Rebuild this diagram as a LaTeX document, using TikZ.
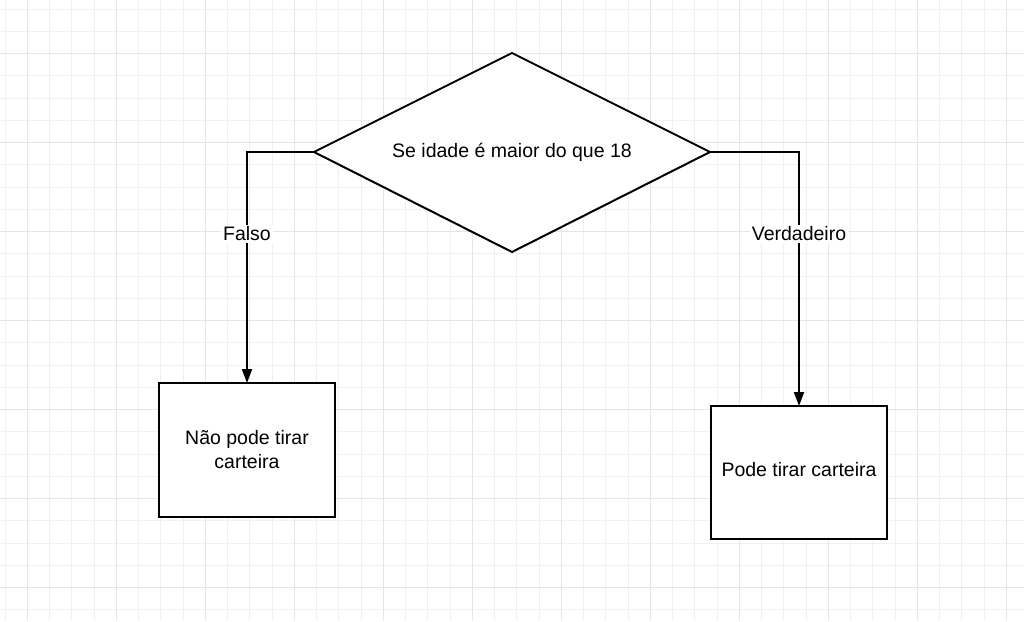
\documentclass[tikz,border=0pt]{standalone}
\usepackage{fontspec}
\setmainfont{Liberation Sans}
\usetikzlibrary{arrows.meta}
\begin{document}
\begin{tikzpicture}[x=1pt,y=-1pt,
  shapebox/.style={draw,line width=2pt},
  conn/.style={draw,line width=2pt,-{Triangle[length=14pt,width=10pt]}},
  lbl/.style={fill=white,font=\fontsize{19.5}{23}\selectfont,inner sep=2pt},
  txt/.style={font=\fontsize{19.5}{24}\selectfont,align=center}]
\useasboundingbox (0,0) rectangle (1024,621);
\fill[white] (0,0) rectangle (1024,621);
\foreach \i in {0,...,46} {
  \pgfmathsetmacro{\xx}{5+22.25*\i}
  \draw[black!6,line width=0.8pt] (\xx,0) -- (\xx,621);
}
\foreach \i in {0,...,28} {
  \pgfmathsetmacro{\yy}{9+22.25*\i}
  \draw[black!6,line width=0.8pt] (0,\yy) -- (1024,\yy);
}
\foreach \i in {0,...,11} {
  \pgfmathsetmacro{\xx}{27+89*\i}
  \draw[black!10,line width=1pt] (\xx,0) -- (\xx,621);
}
\foreach \i in {0,...,6} {
  \pgfmathsetmacro{\yy}{53+89*\i}
  \draw[black!10,line width=1pt] (0,\yy) -- (1024,\yy);
}
\coordinate (dt) at (512,53);
\coordinate (dl) at (314,152);
\coordinate (dr) at (710,152);
\coordinate (db) at (512,252);
\draw[shapebox,fill=white] (dt) -- (dr) -- (db) -- (dl) -- cycle;
\node[txt] (cond) at (512,152) {Se idade é maior do que 18};
\draw[shapebox,fill=white] (159,383) rectangle (335,517);
\node[txt] (no) at (247,450) {Não pode tirar\\carteira};
\draw[shapebox,fill=white] (711,406) rectangle (887,539);
\node[txt] (yes) at (799,470) {Pode tirar carteira};
\coordinate (nt) at (247,383);
\coordinate (yt) at (799,406);
\draw[conn] (dl) -| (nt);
\draw[conn] (dr) -| (yt);
\node[lbl] (f) at (247,234) {Falso};
\node[lbl] (v) at (799,234) {Verdadeiro};
\end{tikzpicture}
\end{document}
